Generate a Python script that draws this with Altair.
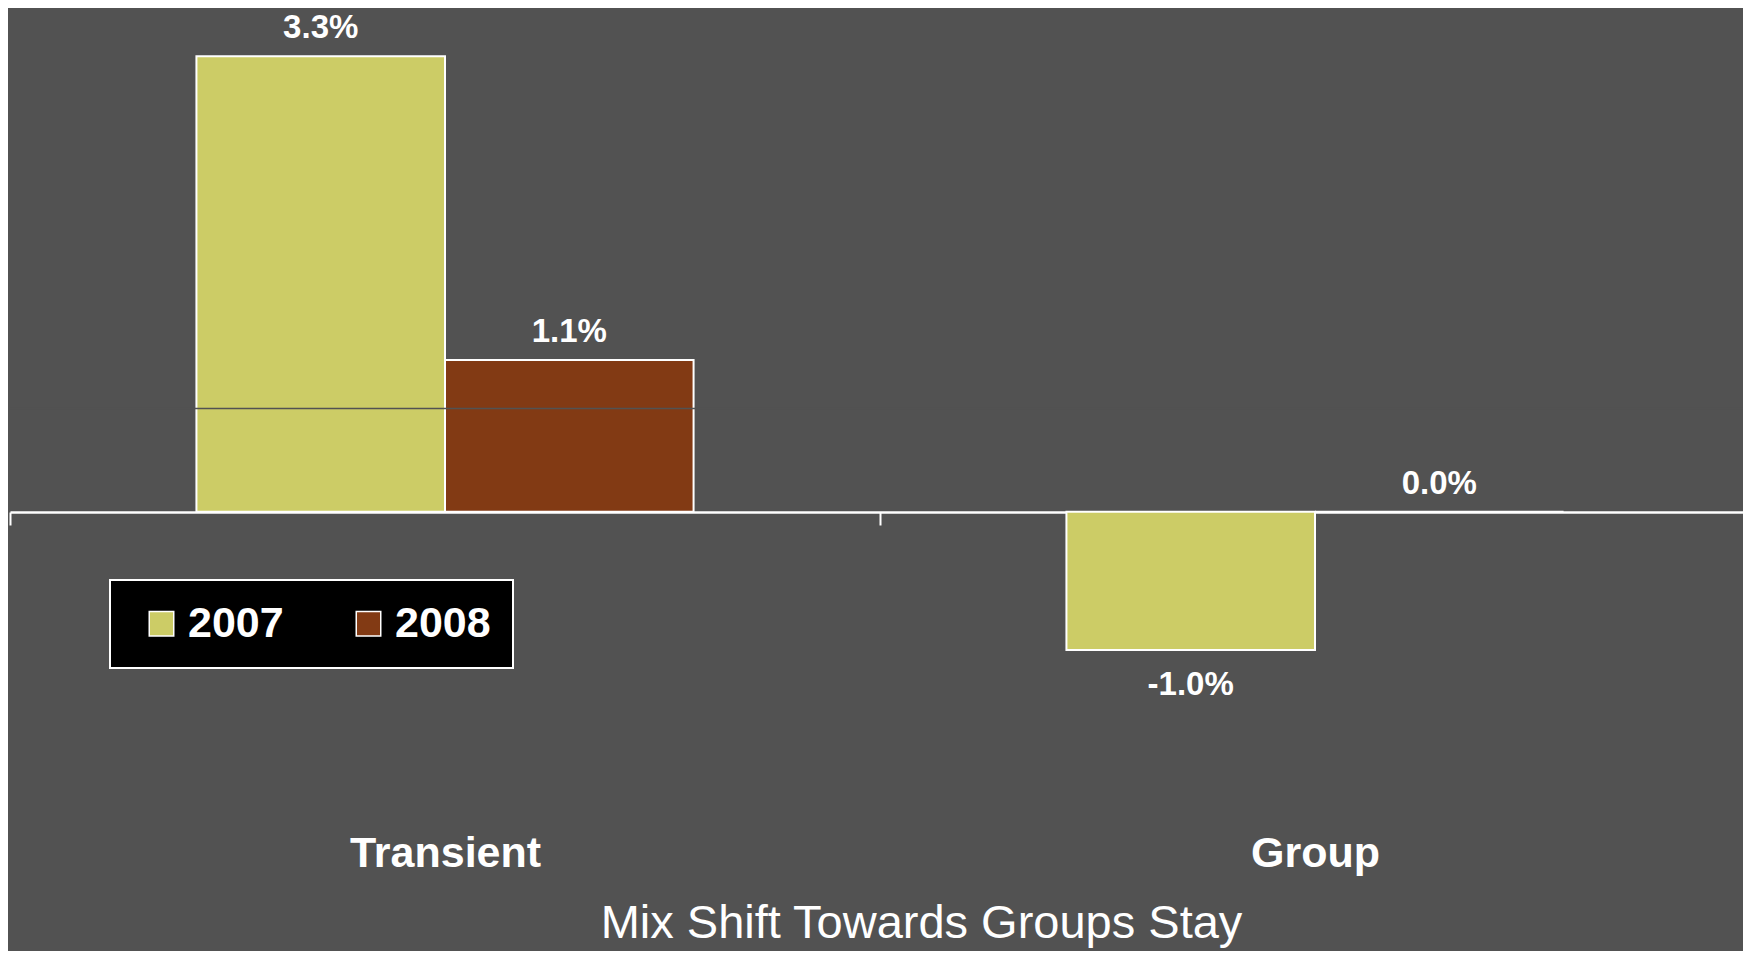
import altair as alt
import pandas as pd

categories = ["Transient", "Group"]
years = ["2007", "2008"]
values_2007 = [3.3, -1.0]
values_2008 = [1.1, 0.0]
labels_2007 = ["3.3%", "-1.0%"]
labels_2008 = ["1.1%", "0.0%"]
chart_title = "Mix Shift Towards Groups Stay"

rows = []
for i, c in enumerate(categories):
    rows.append(dict(category=c, year=years[0], value=values_2007[i], label=labels_2007[i]))
    rows.append(dict(category=c, year=years[1], value=values_2008[i], label=labels_2008[i]))
df = pd.DataFrame(rows)

BG = "#525252"
COLORS = ["#CCCC66", "#823A14"]
FONT = "Liberation Sans, Arial, Helvetica, sans-serif"

x_enc = alt.X(
    "category:N",
    sort=categories,
    title=chart_title,
    scale=alt.Scale(range=[0, 1740], paddingInner=0, paddingOuter=0),
    axis=alt.Axis(
        orient="bottom", offset=-189,
        domainColor="white", domainWidth=2.5,
        tickColor="white", tickWidth=2, tickSize=13, tickBand="extent",
        labelFont=FONT, labelFontSize=43, labelFontWeight="bold",
        labelColor="white", labelPadding=341, labelBaseline="alphabetic",
        labelAngle=0, labelLimit=0,
        titleFont=FONT, titleFontSize=47, titleFontWeight="normal",
        titleColor="white", titleX=911, titleY=425,
        titleBaseline="alphabetic", titleAlign="center", titleLimit=0,
    ),
)
xo_enc = alt.XOffset("year:N", sort=years,
                     scale=alt.Scale(paddingInner=0, paddingOuter=0.75))
y_scale = alt.Scale(domain=[-1.37, 3.65], nice=False, zero=False)

base = alt.Chart(df).encode(x=x_enc, xOffset=xo_enc)

bars = base.mark_bar(stroke="white", strokeWidth=2).encode(
    y=alt.Y("value:Q", scale=y_scale,
            axis=alt.Axis(values=[0.75], grid=True, gridColor=BG,
                          gridWidth=1.5, labels=False, ticks=False,
                          domain=False, title=None, zindex=1)),
    color=alt.Color("year:N",
                    scale=alt.Scale(domain=years, range=COLORS),
                    legend=alt.Legend(
                        title=None, orient="none", legendX=100, legendY=572,
                        direction="horizontal", fillColor="black",
                        strokeColor="white", padding=22,
                        symbolType="square", symbolSize=600,
                        symbolStrokeColor="white", symbolStrokeWidth=1.5,
                        symbolOffset=8,
                        labelFont=FONT, labelFontSize=43, labelFontWeight="bold",
                        labelColor="white", labelOffset=5, columnPadding=55,
                    )),
)

txt_kw = dict(font=FONT, fontSize=33, fontWeight="bold", color="white",
              baseline="middle", align="center")
text_pos = base.transform_filter("datum.value >= 0").mark_text(dy=-28, **txt_kw).encode(
    y=alt.Y("value:Q", scale=y_scale), text="label:N")
text_neg = base.transform_filter("datum.value < 0").mark_text(dy=35, **txt_kw).encode(
    y=alt.Y("value:Q", scale=y_scale), text="label:N")

chart = alt.layer(bars, text_pos, text_neg).properties(
    width=1732, height=693,
    padding={"left": 2, "top": 0, "right": 1, "bottom": 250},
    autosize=alt.AutoSizeParams(type="none"),
    background=BG,
).configure_view(stroke=None).configure_legend(strokeWidth=2)

chart.save("out.html", embed_options={"renderer": "svg", "actions": False})
